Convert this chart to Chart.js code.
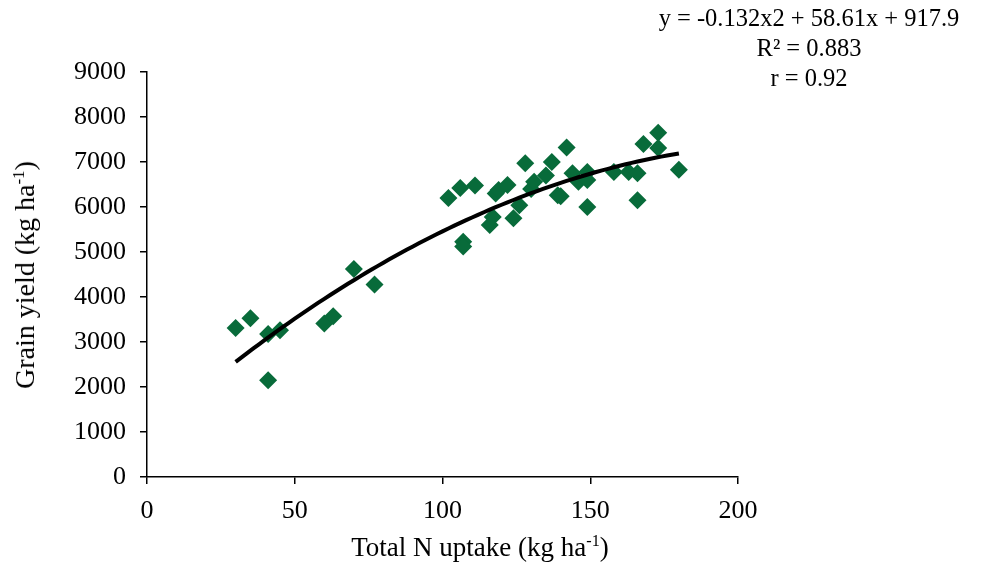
<!DOCTYPE html>
<html>
<head>
<meta charset="utf-8">
<script src="https://cdn.jsdelivr.net/npm/chart.js@4.4.0/dist/chart.umd.min.js"></script>
<style>
  body { margin: 0; background: #fff; }
  #wrap { position: relative; width: 988px; height: 563px; font-family: "Liberation Serif", "Times New Roman", serif; color: #000; }
  .lbl { position: absolute; white-space: nowrap; font-size: 26px; line-height: 30px; }
  #xTitle { left: 480px; top: 532px; font-size: 27px; transform: translateX(-50%); }
  #yTitle { left: 25px; top: 275px; font-size: 28px; transform: translate(-50%, -50%) rotate(-90deg); }
  #eq { left: 809px; top: 3px; transform: translateX(-50%); text-align: center; font-size: 24.5px; }
  sup { font-size: 60%; line-height: 0; }
</style>
</head>
<body>
<div id="wrap">
  <canvas id="chart" width="988" height="563"></canvas>
  <div class="lbl" id="xTitle">Total N uptake (kg ha<sup>-1</sup>)</div>
  <div class="lbl" id="yTitle">Grain yield (kg ha<sup>-1</sup>)</div>
  <div class="lbl" id="eq">y = -0.132x2 + 58.61x + 917.9<br>R² = 0.883<br>r = 0.92</div>
</div>
<script>
// data
const nUptake = [30, 35, 41, 45, 41, 60, 63, 70, 77, 102, 106, 111, 107, 107, 116, 117, 118, 119, 122, 124, 126, 128, 130, 131, 135, 137, 139, 140, 142, 144, 146, 149, 149, 149, 158, 163, 166, 166, 168, 173, 173, 180];
const grainYield = [3310, 3530, 3180, 3260, 2150, 3410, 3570, 4620, 4280, 6200, 6420, 6480, 5230, 5120, 5600, 5780, 6300, 6380, 6490, 5750, 6040, 6970, 6400, 6560, 6700, 7000, 6260, 6240, 7320, 6750, 6560, 6780, 6600, 6000, 6780, 6780, 6750, 6150, 7400, 7650, 7310, 6830];

// quadratic trendline from the printed equation: a*x^2 + b*x + c
const trendCoef = [-0.132, 58.61, 917.9];
const trendRange = [30, 180];

const xTicks = [0, 50, 100, 150, 200];
const yTicks = [0, 1000, 2000, 3000, 4000, 5000, 6000, 7000, 8000, 9000];

const points = nUptake.map((x, i) => ({ x: x, y: grainYield[i] }));
const trend = [];
for (let x = trendRange[0]; x <= trendRange[1]; x += 2) {
  trend.push({ x: x, y: trendCoef[0] * x * x + trendCoef[1] * x + trendCoef[2] });
}

const tickFont = { family: "'Liberation Serif', 'Times New Roman', serif", size: 26 };

new Chart(document.getElementById('chart'), {
  type: 'scatter',
  data: {
    datasets: [
      {
        label: 'Trend',
        data: trend,
        showLine: true,
        borderColor: '#000',
        borderWidth: 4,
        pointRadius: 0,
        tension: 0,
        order: 0
      },
      {
        label: 'Grain yield',
        data: points,
        pointStyle: 'rectRot',
        pointRadius: 9,
        backgroundColor: '#086b3a',
        borderColor: '#086b3a',
        borderWidth: 0,
        order: 1
      }
    ]
  },
  options: {
    responsive: false,
    animation: false,
    layout: { padding: { top: 72, right: 250, left: 0, bottom: 0 } },
    plugins: {
      legend: { display: false },
      tooltip: { enabled: false }
    },
    scales: {
      x: {
        type: 'linear',
        min: xTicks[0],
        max: xTicks[xTicks.length - 1],
        afterBuildTicks: s => { s.ticks = xTicks.map(v => ({ value: v })); },
        afterFit: s => { s.height = 86; },
        ticks: { color: '#000', font: tickFont, padding: 12, callback: v => String(v) },
        grid: { drawOnChartArea: false, tickLength: 7, color: '#000', lineWidth: 1.5 },
        border: { color: '#000', width: 1.5 }
      },
      y: {
        type: 'linear',
        min: yTicks[0],
        max: yTicks[yTicks.length - 1],
        afterBuildTicks: s => { s.ticks = yTicks.map(v => ({ value: v })); },
        afterFit: s => { s.width = 147; },
        ticks: { color: '#000', font: tickFont, padding: 14, callback: v => String(v) },
        grid: { drawOnChartArea: false, tickLength: 7, color: '#000', lineWidth: 1.5 },
        border: { color: '#000', width: 1.5 }
      }
    }
  }
});
</script>
</body>
</html>
